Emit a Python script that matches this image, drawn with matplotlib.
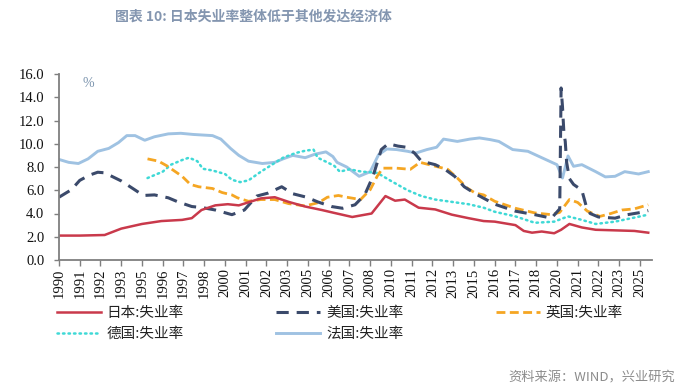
import matplotlib
matplotlib.use("Agg")
import matplotlib.pyplot as plt

# ---------------- data (unemployment rate, %) ----------------
tick_labels = ["1990", "1991", "1992", "1993", "1995", "1996", "1997", "1998", "2000",
               "2001", "2002", "2003", "2005", "2006", "2007", "2008", "2010", "2011",
               "2012", "2013", "2015", "2016", "2017", "2018", "2020", "2021", "2022",
               "2023", "2025"]

jp_dates = ["1990-01", "1991-04", "1992-10", "1993-10", "1995-01", "1996-03", "1997-06",
            "1998-01", "1998-08", "1999-06", "2000-03", "2000-11", "2002-03", "2003-01",
            "2003-11", "2004-11", "2005-11", "2006-08", "2007-09", "2008-11", "2009-03",
            "2009-09", "2010-04", "2010-11", "2011-09", "2012-09", "2013-09", "2014-09",
            "2015-08", "2016-04", "2017-07", "2018-01", "2018-07", "2019-02", "2019-11",
            "2020-04", "2020-10", "2021-07", "2022-05", "2023-07", "2024-09", "2025-07"]
jp_vals = [2.1, 2.1, 2.15, 2.7, 3.1, 3.35, 3.45, 3.6, 4.3, 4.7, 4.8, 4.7, 5.3, 5.4,
           5.0, 4.6, 4.3, 4.05, 3.7, 4.0, 4.6, 5.5, 5.1, 5.2, 4.5, 4.35, 3.9, 3.6,
           3.35, 3.3, 3.0, 2.5, 2.35, 2.45, 2.3, 2.6, 3.1, 2.8, 2.6, 2.55, 2.5, 2.35]

us_dates = ["1990-01", "1990-10", "1991-04", "1991-11", "1992-05", "1992-10", "1993-10",
            "1994-07", "1995-02", "1995-10", "1996-08", "1997-03", "1998-01", "1998-09",
            "1999-06", "2000-06", "2001-03", "2001-12", "2002-08", "2003-06", "2004-02",
            "2004-12", "2005-08", "2006-06", "2007-02", "2007-11", "2008-06", "2008-12",
            "2009-06", "2009-11", "2010-06", "2010-12", "2011-06", "2011-11", "2012-09",
            "2013-04", "2013-11", "2014-06", "2015-02", "2016-04", "2017-07", "2018-09",
            "2019-09", "2020-03", "2020-04", "2020-05", "2020-06", "2020-07", "2020-08",
            "2020-10", "2021-01", "2021-07", "2021-10", "2022-01", "2022-07", "2023-07",
            "2024-04", "2025-02", "2025-07"]
us_vals = [5.4, 6.05, 6.85, 7.3, 7.55, 7.5, 6.8, 6.1, 5.55, 5.6, 5.35, 5.0, 4.6, 4.5,
           4.3, 3.9, 4.3, 5.5, 5.75, 6.3, 5.7, 5.4, 5.0, 4.6, 4.45, 4.75, 5.6, 7.2,
           9.5, 10.0, 9.8, 9.7, 9.2, 8.5, 8.2, 7.8, 7.2, 6.3, 5.7, 4.8, 4.2, 3.9,
           3.6, 4.4, 14.8, 13.2, 11.0, 10.2, 8.4, 7.0, 6.5, 6.0, 4.7, 4.0, 3.7, 3.6,
           3.9, 4.1, 4.25]

uk_dates = ["1995-05", "1996-01", "1996-07", "1997-06", "1997-12", "1998-06", "1999-04",
            "1999-11", "2000-06", "2000-10", "2001-06", "2002-03", "2003-01", "2003-11",
            "2004-11", "2005-09", "2006-03", "2006-11", "2007-05", "2008-03", "2008-10",
            "2009-03", "2009-07", "2010-05", "2011-03", "2011-10", "2012-08", "2013-06",
            "2014-01", "2014-08", "2015-02", "2015-08", "2016-04", "2017-07", "2018-09",
            "2019-09", "2020-03", "2020-10", "2021-04", "2021-11", "2022-08", "2023-04",
            "2023-12", "2024-09", "2025-07"]
uk_vals = [8.7, 8.5, 8.1, 7.2, 6.5, 6.3, 6.15, 5.8, 5.6, 5.35, 5.05, 5.2, 5.2, 4.85,
           4.65, 4.95, 5.4, 5.55, 5.4, 5.2, 6.05, 7.2, 7.9, 7.9, 7.8, 8.4, 8.1, 7.8,
           7.05, 6.2, 5.75, 5.6, 5.05, 4.45, 4.05, 3.9, 4.1, 5.2, 4.95, 4.2, 3.75, 4.0,
           4.3, 4.4, 4.75]

de_dates = ["1995-05", "1996-04", "1996-10", "1997-06", "1997-11", "1998-05", "1998-09",
            "1999-04", "2000-01", "2000-06", "2000-12", "2001-06", "2002-03", "2002-11",
            "2003-07", "2004-04", "2004-11", "2005-05", "2005-08", "2006-03", "2006-08",
            "2006-12", "2007-07", "2008-04", "2009-03", "2010-01", "2011-01", "2011-11",
            "2012-09", "2013-09", "2014-09", "2015-08", "2016-04", "2017-07", "2018-09",
            "2019-11", "2020-09", "2021-07", "2022-05", "2023-07", "2024-07", "2025-07"]
de_vals = [7.05, 7.6, 8.2, 8.6, 8.8, 8.5, 7.85, 7.7, 7.4, 6.9, 6.7, 6.85, 7.6, 8.2,
           8.8, 9.2, 9.4, 9.5, 8.8, 8.4, 8.1, 7.6, 7.8, 7.6, 7.5, 6.8, 6.0, 5.5,
           5.2, 5.0, 4.8, 4.5, 4.15, 3.75, 3.2, 3.3, 3.75, 3.45, 3.1, 3.3, 3.6, 3.9]

fr_dates = ["1990-01", "1990-08", "1991-03", "1991-10", "1992-05", "1993-01", "1993-08",
            "1994-02", "1994-08", "1995-03", "1995-10", "1996-08", "1997-05", "1998-02",
            "1999-04", "1999-10", "2000-05", "2000-11", "2001-06", "2002-04", "2003-01",
            "2003-07", "2004-02", "2004-11", "2005-06", "2006-02", "2006-07", "2006-10",
            "2007-05", "2008-02", "2008-10", "2009-04", "2009-10", "2010-05", "2011-01",
            "2011-07", "2012-03", "2012-10", "2013-03", "2014-01", "2014-10", "2015-05",
            "2016-01", "2016-07", "2017-05", "2018-04", "2019-02", "2020-01", "2020-05",
            "2020-09", "2021-01", "2021-07", "2022-05", "2022-12", "2023-07", "2024-02",
            "2024-12", "2025-07"]
fr_vals = [8.65, 8.4, 8.3, 8.7, 9.35, 9.6, 10.1, 10.7, 10.7, 10.3, 10.6, 10.85, 10.9,
           10.8, 10.7, 10.4, 9.6, 9.0, 8.5, 8.3, 8.4, 8.7, 9.0, 8.8, 9.1, 9.3, 8.9,
           8.4, 8.0, 7.2, 7.6, 9.05, 9.55, 9.5, 9.35, 9.2, 9.5, 9.7, 10.4, 10.2, 10.4,
           10.5, 10.35, 10.2, 9.5, 9.35, 8.8, 8.2, 7.05, 8.95, 8.06, 8.2, 7.6, 7.15,
           7.2, 7.6, 7.4, 7.6]


def month_index(dates):
    out = []
    for d in dates:
        y, m = d.split("-")
        out.append((int(y) - 1990) * 12 + int(m) - 1)
    return out


# ---------------- figure ----------------
plt.rcParams["font.family"] = ["Noto Sans CJK SC", "DejaVu Sans"]
fig = plt.figure(figsize=(6.99, 3.90), dpi=100)
ax = fig.add_axes([59 / 699, 1 - 260 / 390, (651.7 - 59) / 699, (260 - 74) / 390])

c_jp = "#c9394b"
c_us = "#3b4a6b"
c_uk = "#f5a623"
c_de = "#3fd9d6"
c_fr = "#9fc2e2"

l_fr, = ax.plot(month_index(fr_dates), fr_vals, color=c_fr, lw=2.1, solid_joinstyle="round")
l_de, = ax.plot(month_index(de_dates), de_vals, color=c_de, lw=1.8, linestyle=(0, (0.6, 1.6)),
                dash_capstyle="round")
l_uk, = ax.plot(month_index(uk_dates), uk_vals, color=c_uk, lw=2.0, linestyle=(0, (3.2, 1.6)))
l_us, = ax.plot(month_index(us_dates), us_vals, color=c_us, lw=2.2, linestyle=(0, (4, 2.6)))
l_jp, = ax.plot(month_index(jp_dates), jp_vals, color=c_jp, lw=1.8)

ax.set_xlim(0, 428.5)
ax.set_ylim(0, 16)
ax.set_yticks([0, 2, 4, 6, 8, 10, 12, 14, 16])
ax.set_yticklabels([f"{v:.1f}" for v in range(0, 17, 2)])
ax.set_xticks([15 * i for i in range(len(tick_labels))])
ax.set_xticklabels(tick_labels, rotation=90)

for s in ["top", "right"]:
    ax.spines[s].set_visible(False)
for s in ["left", "bottom"]:
    ax.spines[s].set_color("#7f7f7f")
    ax.spines[s].set_linewidth(1.3)

ax.tick_params(axis="y", direction="out", length=3.5, width=1, color="#7f7f7f", pad=7)
ax.tick_params(axis="x", direction="out", length=4, width=1, color="#7f7f7f", pad=2)
for lab in ax.get_xticklabels() + ax.get_yticklabels():
    lab.set_fontfamily(["Liberation Serif", "DejaVu Serif"])
    lab.set_fontsize(10.5)
    lab.set_color("#111111")

ax.text(0.04, 0.985, "%", transform=ax.transAxes, fontsize=10,
        family=["Liberation Serif", "DejaVu Serif"], color="#7a93ad", va="top", ha="left")

# title
fig.text(253 / 699, 1 - 17 / 390, "图表 10: 日本失业率整体低于其他发达经济体",
         ha="center", va="center", fontsize=10, fontweight="bold", color="#8496b0")

# legend (column-major order so rows read 日本/美国/英国, 德国/法国)
handles = [l_jp, l_de, l_us, l_fr, l_uk]
labels = ["日本:失业率", "德国:失业率", "美国:失业率", "法国:失业率", "英国:失业率"]
leg = fig.legend(handles, labels, ncol=3, loc="upper left",
                 bbox_to_anchor=(57 / 699, 1 - 306 / 390), frameon=False,
                 fontsize=10.5, handlelength=3.0, handletextpad=0.4,
                 columnspacing=6.35, labelspacing=0.5, borderaxespad=0, borderpad=0)
for t in leg.get_texts():
    t.set_color("#222222")

# source
fig.text(675 / 699, 1 - 378 / 390, "资料来源：WIND，兴业研究", ha="right", va="center",
         fontsize=9.5, color="#8c8c8c")

fig.savefig("out.png", dpi=100)
